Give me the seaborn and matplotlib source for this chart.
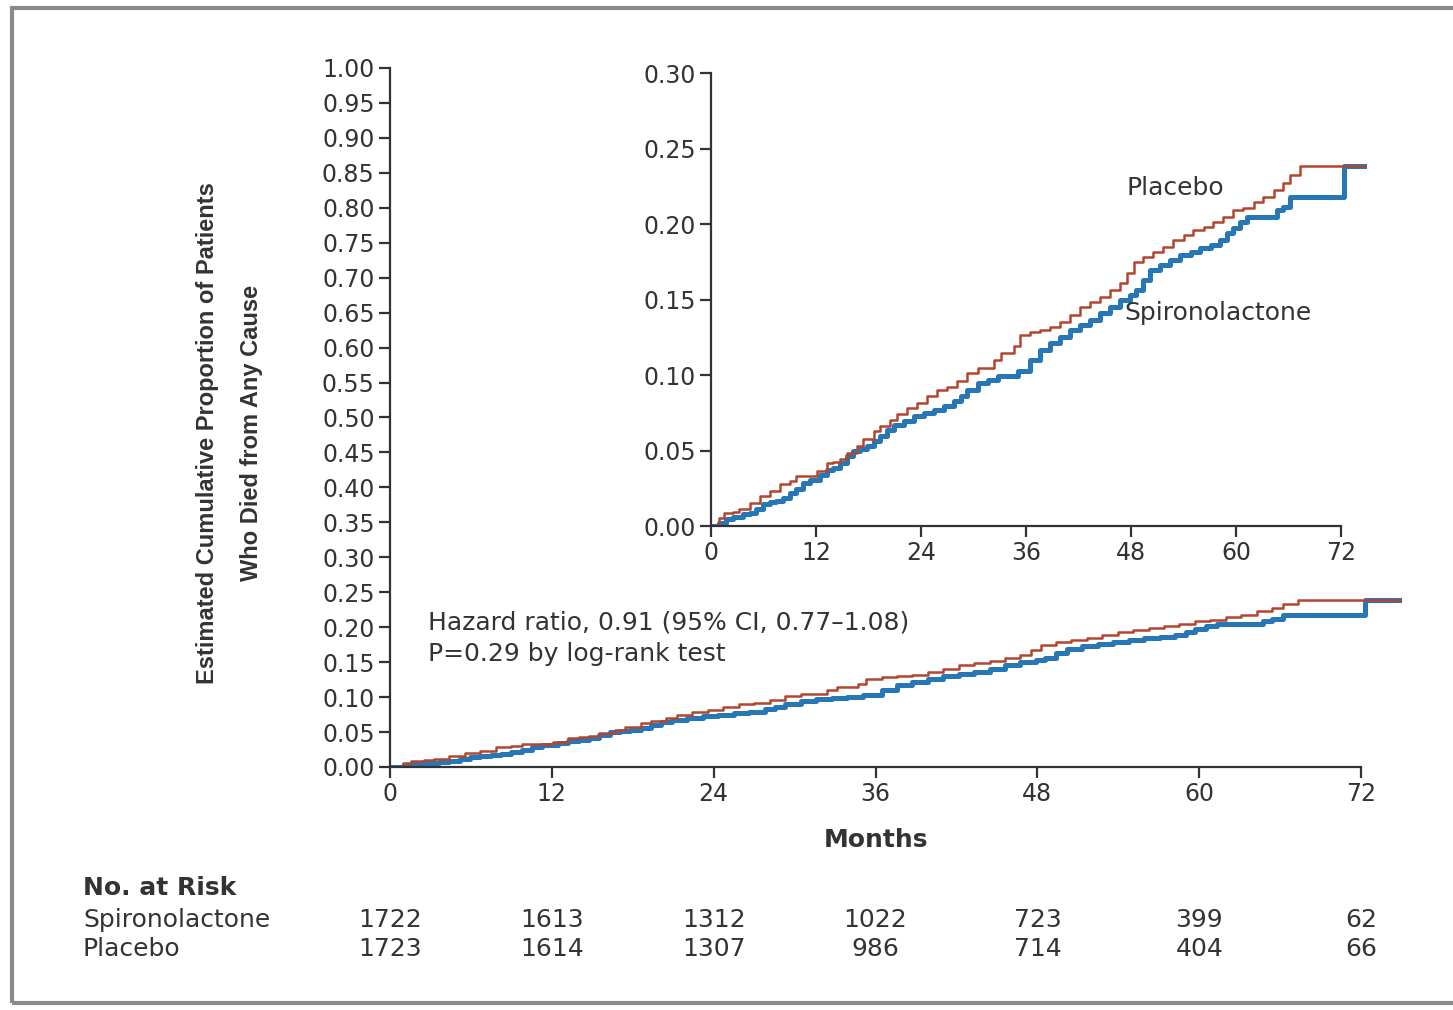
import numpy as np
import pandas as pd
import matplotlib
matplotlib.use("Agg")
import matplotlib.pyplot as plt
import matplotlib.transforms as mtransforms
from matplotlib.patches import Rectangle
import seaborn as sns

# cumulative incidence (months, proportion)
placebo_months = [0, 0.96, 1.53, 2.49, 3.26, 4.41, 5.56, 6.70, 7.85, 9.00, 9.77, 12.07, 13.22, 13.98,
                  14.75, 15.52, 16.67, 17.43, 18.58, 19.35, 20.50, 21.26, 22.41, 23.56, 24.71, 25.86,
                  27.01, 28.16, 29.31, 30.46, 32.38, 33.14, 34.67, 35.3, 36.5, 37.6, 38.7, 39.9, 41.0,
                  42.2, 43.3, 44.5, 45.6, 46.7, 47.5, 48.3, 49.4, 50.5, 51.7, 52.8, 54.0, 55.1, 56.3,
                  57.4, 58.5, 59.7, 60.8, 62.0, 63.1, 64.3, 65.4, 66.2, 67.3, 75.0]
placebo_prop = [0, 0.0055, 0.0088, 0.0093, 0.0115, 0.0154, 0.0198, 0.0231, 0.0280, 0.0297, 0.0330,
                0.0363, 0.0414, 0.0423, 0.0445, 0.0485, 0.0529, 0.0573, 0.0632, 0.0661, 0.0700, 0.0742,
                0.0782, 0.0815, 0.0859, 0.0903, 0.0921, 0.0958, 0.1013, 0.1046, 0.1101, 0.1145, 0.1189,
                0.1265, 0.1287, 0.1298, 0.1320, 0.1353, 0.1397, 0.1452, 0.1486, 0.1519, 0.1563, 0.1607,
                0.1673, 0.1750, 0.1784, 0.1817, 0.1850, 0.1894, 0.1927, 0.1960, 0.1982, 0.2015, 0.2049,
                0.2093, 0.2104, 0.2148, 0.2181, 0.2225, 0.2269, 0.2325, 0.2384, 0.2384]

spiro_months = [0, 0.96, 1.72, 2.49, 3.64, 4.41, 5.17, 5.94, 6.70, 7.47, 8.24, 9.00, 9.77, 10.54, 11.30,
                12.45, 13.22, 13.98, 14.75, 15.52, 16.28, 17.05, 17.82, 18.58, 19.35, 20.11, 20.88,
                22.03, 23.18, 24.33, 25.48, 26.63, 27.78, 28.54, 29.31, 30.46, 31.61, 32.76, 33.91,
                35.06, 36.5, 37.6, 38.7, 39.9, 41.0, 42.2, 43.3, 44.5, 45.6, 46.7, 47.9, 48.6, 49.4,
                50.2, 51.3, 52.5, 53.6, 54.8, 55.9, 57.1, 58.2, 59.0, 59.7, 60.5, 61.3, 64.7, 65.4,
                66.2, 72.3, 75.0]
spiro_prop = [0, 0.0018, 0.0044, 0.0062, 0.0077, 0.0088, 0.0115, 0.0143, 0.0159, 0.0165, 0.0187,
              0.0220, 0.0242, 0.0286, 0.0308, 0.0341, 0.0368, 0.0385, 0.0419, 0.0463, 0.0496, 0.0511,
              0.0529, 0.0562, 0.0595, 0.0639, 0.0666, 0.0694, 0.0727, 0.0749, 0.0771, 0.0793, 0.0826,
              0.0859, 0.0903, 0.0947, 0.0969, 0.0991, 0.0996, 0.1024, 0.1099, 0.1166, 0.1210, 0.1254,
              0.1298, 0.1331, 0.1364, 0.1409, 0.1452, 0.1497, 0.1530, 0.1563, 0.1629, 0.1695, 0.1728,
              0.1762, 0.1795, 0.1817, 0.1839, 0.1861, 0.1894, 0.1938, 0.1971, 0.2015, 0.2049, 0.2093,
              0.2115, 0.2181, 0.2384, 0.2384]

# number at risk table
risk_months = [0, 12, 24, 36, 48, 60, 72]
risk_spiro = [1722, 1613, 1312, 1022, 723, 399, 62]
risk_placebo = [1723, 1614, 1307, 986, 714, 404, 66]

main_yticks = np.round(np.arange(0, 1.0001, 0.05), 2)
inset_yticks = np.round(np.arange(0, 0.3001, 0.05), 2)

RED = "#b3452e"
BLUE = "#2777b6"
INK = "#333333"
FS = 18

sns.set_style("ticks")
plt.rcParams["font.family"] = ["DejaVu Sans"]
plt.rcParams["text.color"] = INK
plt.rcParams["axes.edgecolor"] = INK
plt.rcParams["axes.labelcolor"] = INK
plt.rcParams["xtick.color"] = INK
plt.rcParams["ytick.color"] = INK

spiro = pd.DataFrame({"month": spiro_months, "prop": spiro_prop})
placebo = pd.DataFrame({"month": placebo_months, "prop": placebo_prop})

fig = plt.figure(figsize=(14.53, 10.10), dpi=100)
fig.patch.set_facecolor("white")


def draw_curves(ax):
    sns.lineplot(data=spiro, x="month", y="prop", ax=ax, color=BLUE, lw=3.6,
                 drawstyle="steps-post", estimator=None, sort=False)
    sns.lineplot(data=placebo, x="month", y="prop", ax=ax, color=RED, lw=1.8,
                 drawstyle="steps-post", estimator=None, sort=False)
    ax.set_xlim(0, 75)
    ax.set_xticks(risk_months)
    ax.spines["top"].set_visible(False)
    ax.spines["right"].set_visible(False)
    ax.spines["bottom"].set_bounds(0, 72)
    ax.spines["left"].set_linewidth(1.6)
    ax.spines["bottom"].set_linewidth(1.6)
    ax.tick_params(length=8, width=1.6, labelsize=17, pad=3)
    ax.set_xlabel("")
    ax.set_ylabel("")
    ax.patch.set_alpha(0)


# main plot
ax = fig.add_axes([0.2684, 0.2406, 0.6962, 0.6921])
draw_curves(ax)
ax.set_ylim(0, 1.0)
ax.set_yticks(main_yticks)
ax.set_yticklabels([f"{v:.2f}" for v in main_yticks])
ax.set_xlabel("Months", fontsize=FS, fontweight="bold")
ax.xaxis.set_label_coords(36 / 75, -0.104)
ax.xaxis.label.set_va("center")

ax.text(2.8, 0.207, "Hazard ratio, 0.91 (95% CI, 0.77\u20131.08)", fontsize=FS, va="center")
ax.text(2.8, 0.162, "P=0.29 by log-rank test", fontsize=FS, va="center")

# inset
ax2 = fig.add_axes([0.4893, 0.4792, 0.4517, 0.4485])
draw_curves(ax2)
ax2.set_ylim(0, 0.30)
ax2.set_yticks(inset_yticks)
ax2.set_yticklabels([f"{v:.2f}" for v in inset_yticks])
ax2.text(47.5, 0.224, "Placebo", fontsize=FS, va="center")
ax2.text(47.3, 0.141, "Spironolactone", fontsize=FS, va="center")

# y label, narrower face than the rest
narrow = ["Liberation Sans", "DejaVu Sans"]
fig.text(0.143, 0.571, "Estimated Cumulative Proportion of Patients", rotation=90,
         ha="center", va="center", fontsize=17, fontweight="bold", family=narrow)
fig.text(0.173, 0.571, "Who Died from Any Cause", rotation=90,
         ha="center", va="center", fontsize=17, fontweight="bold", family=narrow)

# number at risk
tr = mtransforms.blended_transform_factory(ax.transData, fig.transFigure)
fig.text(0.0571, 0.1208, "No. at Risk", fontsize=FS, fontweight="bold", va="center")
fig.text(0.0571, 0.0891, "Spironolactone", fontsize=FS, va="center")
fig.text(0.0571, 0.0604, "Placebo", fontsize=FS, va="center")
for m, s, p in zip(risk_months, risk_spiro, risk_placebo):
    ax.text(m, 0.0891, str(s), transform=tr, fontsize=FS, ha="center", va="center", clip_on=False)
    ax.text(m, 0.0604, str(p), transform=tr, fontsize=FS, ha="center", va="center", clip_on=False)

# grey frame around the figure
fig.add_artist(Rectangle((0.0083, 0.007), 1.2, 0.985, transform=fig.transFigure,
                         fill=False, edgecolor="#8a8a8a", lw=3))

fig.savefig("out.png", dpi=100)
